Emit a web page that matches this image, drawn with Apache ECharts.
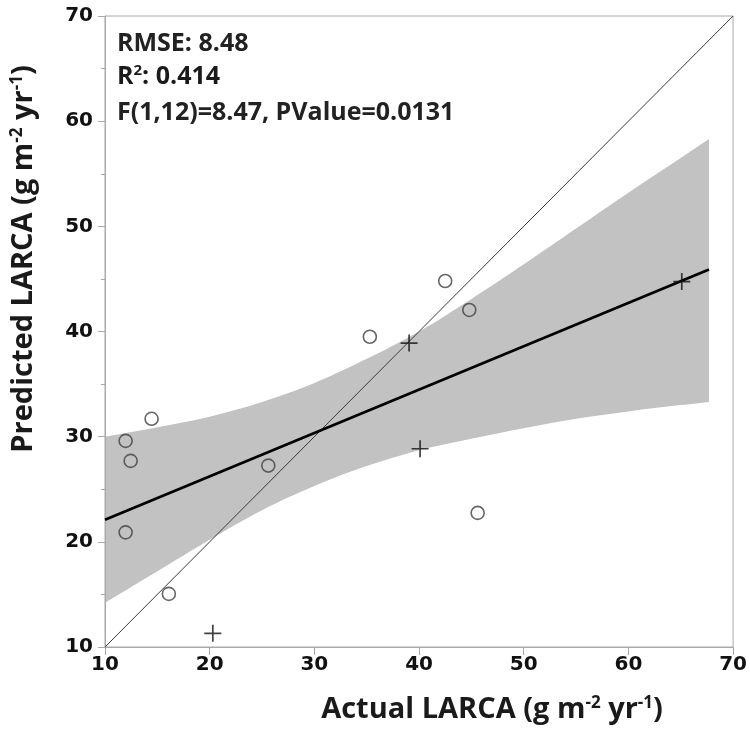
<!DOCTYPE html>
<html>
<head>
<meta charset="utf-8">
<script src="https://cdn.jsdelivr.net/npm/echarts@6/dist/echarts.min.js"></script>
<style>html,body{margin:0;padding:0;background:#fff}#c{width:750px;height:733px}</style>
</head>
<body>
<div id="c"></div>
<script>
// ---- data ----
var circlesX = [11.97, 12.45, 14.45, 11.97, 16.1, 25.6, 35.3, 42.5, 44.8, 45.6];
var circlesY = [29.6, 27.7, 31.7, 20.9, 15.05, 27.25, 39.5, 44.8, 42.05, 22.75];
var crossesX = [20.3, 39.05, 40.1, 65.1];
var crossesY = [11.3, 38.9, 28.85, 44.75];
var fitX = [10, 67.7];
var fitY = [22.1, 45.9];
var diagX = [10, 70];
var diagY = [10, 70];
var bandX =     [10,   15,   20,   25,   30,   35,   40,   45,   50,   55,   60,   65,   67.7];
var bandUpper = [30.0, 30.9, 31.9, 33.3, 35.1, 37.4, 40.0, 43.1, 46.4, 49.8, 53.2, 56.5, 58.3];
var bandLower = [14.2, 17.2, 20.2, 23.0, 25.3, 27.2, 28.7, 29.8, 30.8, 31.7, 32.4, 33.0, 33.3];
var xTicks = [10, 20, 30, 40, 50, 60, 70];
var yTicks = [10, 20, 30, 40, 50, 60, 70];
var statRmse = 'RMSE: 8.48';
var statR2 = '0.414';
var statF = 'F(1,12)=8.47, PValue=0.0131';

function zip(a, b) { return a.map(function (v, i) { return [v, b[i]]; }); }

var chart = echarts.init(document.getElementById('c'), null, { renderer: 'canvas' });
var tickFont = { fontFamily: 'DejaVu Sans', fontWeight: 'bold', fontSize: 20, color: '#111' };
var titleFont = '"Open Sans", "Noto Sans", sans-serif';
var crossPath = 'path://M9,0h2v9h9v2h-9v9h-2v-9h-9v-2h9z';
var bandColor = '#c2c2c2';

function titleRich(size, supSize, lift) {
  return {
    b: { font: 'bold ' + size + 'px ' + titleFont, fill: '#1a1a1a', color: '#1a1a1a' },
    s: { font: 'bold ' + supSize + 'px ' + titleFont, fill: '#1a1a1a', color: '#1a1a1a', padding: [0, 0, lift, 0] }
  };
}

var option = {
  animation: false,
  grid: { left: 105, right: 15, top: 16, bottom: 86, show: true, borderColor: '#a8a8a8', borderWidth: 1, z: 0 },
  xAxis: {
    type: 'value', min: xTicks[0], max: xTicks[xTicks.length - 1], interval: 10, z: 1,
    axisLine: { show: true, lineStyle: { color: '#a8a8a8', width: 1 } },
    axisTick: { show: true, inside: false, length: 8, lineStyle: { color: '#a8a8a8' } },
    axisLabel: Object.assign({ margin: 8 }, tickFont),
    splitLine: { show: false }
  },
  yAxis: {
    type: 'value', min: yTicks[0], max: yTicks[yTicks.length - 1], interval: 10, z: 1,
    axisLine: { show: true, lineStyle: { color: '#a8a8a8', width: 1 } },
    axisTick: { show: true, inside: false, length: 7, lineStyle: { color: '#a8a8a8' } },
    minorTick: { show: true, splitNumber: 2, length: 4, lineStyle: { color: '#a8a8a8' } },
    axisLabel: Object.assign({ margin: 12 }, tickFont),
    splitLine: { show: false }
  },
  series: [
    {
      // upper confidence limit: grey fill down to the axis
      type: 'line', data: zip(bandX, bandUpper), symbol: 'none', smooth: 0.35,
      lineStyle: { width: 0, opacity: 0 }, areaStyle: { color: bandColor, opacity: 1, origin: 'start' },
      silent: true, z: -2
    },
    {
      // lower confidence limit: white fill below it clears the band underside
      type: 'line', data: zip(bandX, bandLower), symbol: 'none', smooth: 0.35,
      lineStyle: { width: 0, opacity: 0 }, areaStyle: { color: '#ffffff', opacity: 1, origin: 'start' },
      silent: true, z: -1
    },
    {
      type: 'line', data: zip(diagX, diagY), symbol: 'none', z: 3,
      lineStyle: { color: '#3a3a3a', width: 1 }
    },
    {
      type: 'line', data: zip(fitX, fitY), symbol: 'none', z: 4,
      lineStyle: { color: '#000', width: 2.8 }
    },
    {
      type: 'scatter', data: zip(circlesX, circlesY), symbol: 'circle', symbolSize: 13, z: 5,
      itemStyle: { color: 'rgba(0,0,0,0)', borderColor: '#404040', borderWidth: 1.6 }
    },
    {
      type: 'scatter', data: zip(crossesX, crossesY), symbol: crossPath, symbolSize: 17, z: 5,
      itemStyle: { color: '#111' }
    }
  ],
  graphic: [
    {
      type: 'text', x: 117, y: 44,
      style: { text: statRmse, font: 'bold 25px ' + titleFont, fill: '#222', verticalAlign: 'middle' }
    },
    {
      type: 'text', x: 117, y: 77,
      style: {
        text: '{b|R}{s|2}{b|: ' + statR2 + '}', verticalAlign: 'middle',
        rich: titleRich(25, 15, 12)
      }
    },
    {
      type: 'text', x: 117, y: 113,
      style: { text: statF, font: 'bold 25px ' + titleFont, fill: '#222', verticalAlign: 'middle' }
    },
    {
      type: 'text', x: 492, y: 710,
      style: {
        text: '{b|Actual LARCA (g m}{s|-2}{b| yr}{s|-1}{b|)}',
        align: 'center', verticalAlign: 'middle',
        rich: titleRich(29, 17, 14)
      }
    },
    {
      type: 'text', x: 24, y: 259, rotation: Math.PI / 2,
      style: {
        text: '{b|Predicted LARCA (g m}{s|-2}{b| yr}{s|-1}{b|)}',
        align: 'center', verticalAlign: 'middle',
        rich: titleRich(29, 17, 14)
      }
    }
  ]
};
chart.setOption(option);
</script>
</body>
</html>
